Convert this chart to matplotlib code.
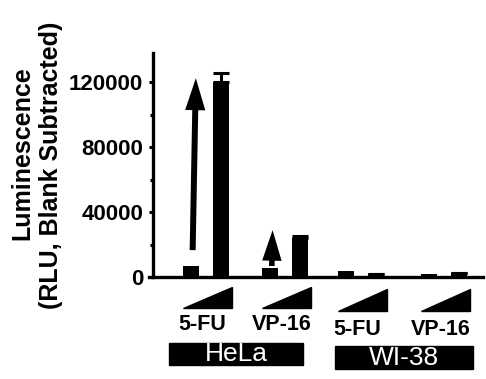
import matplotlib
matplotlib.use('Agg')
import matplotlib.pyplot as plt
from matplotlib.patches import Rectangle, Polygon
from matplotlib.ticker import MultipleLocator

plt.rcParams['font.family'] = ['Liberation Sans', 'DejaVu Sans']

# data
cells = ['HeLa', 'WI-38']
drugs = ['5-FU', 'VP-16', '5-FU', 'VP-16']
group_pos = [0.0, 1.0, 1.96, 3.01]
low_vals = [6500, 5500, 3500, 1800]
high_vals = [120000, 24000, 1800, 2500]
high_err = [6000, 1500, 0, 0]
# arrows: (tail value, tip value)
arrows = [(16600, 122500), (6800, 28900)]

off = 0.19
w = 0.2

fig = plt.figure(figsize=(4.86, 3.79), dpi=100)
ax = fig.add_axes([0.315, 0.269, 0.679, 0.591])

low_x = [g - off for g in group_pos]
high_x = [g + off for g in group_pos]
ax.bar(low_x, low_vals, width=w, color='black')
ax.bar(high_x, high_vals, width=w, color='black',
       yerr=[[0] * 4, high_err], ecolor='black',
       error_kw=dict(capsize=6, capthick=2.2, elinewidth=2.2))

# arrows over low-dose bars of HeLa
tilt = [0.04, 0.01]
for i, (t0, t1) in enumerate(arrows):
    x0 = low_x[i] + 0.02
    if i == 0:
        style = 'simple,head_length=2.3,head_width=1.45,tail_width=0.43'
    else:
        style = 'simple,head_length=2.2,head_width=1.4,tail_width=0.4'
    ax.annotate('', xy=(x0 + tilt[i], t1), xytext=(x0, t0),
                arrowprops=dict(arrowstyle=style, mutation_scale=10,
                                color='black', shrinkA=0, shrinkB=0, lw=0))

ax.set_xlim(-0.67, 3.5)
ax.set_ylim(0, 138000)
ax.yaxis.set_major_locator(MultipleLocator(40000))
ax.yaxis.set_minor_locator(MultipleLocator(20000))
ax.set_xticks([])
for s in ['top', 'right']:
    ax.spines[s].set_visible(False)
ax.spines['left'].set_linewidth(2.4)
ax.spines['bottom'].set_linewidth(2.4)
ax.spines['bottom'].set_bounds(-0.72, 3.5)
ax.tick_params(axis='y', which='major', length=3, width=2.2, direction='out',
               labelsize=16, pad=4)
ax.tick_params(axis='y', which='minor', length=2, width=2.2, direction='out')
for lab in ax.get_yticklabels():
    lab.set_fontweight('bold')

tr = ax.get_xaxis_transform()
# dose wedges and drug labels
wedge_y = [(-0.045, -0.138), (-0.045, -0.138), (-0.054, -0.152), (-0.054, -0.152)]
label_y = [-0.214, -0.214, -0.232, -0.232]
for i, g in enumerate(group_pos):
    top, bot = wedge_y[i]
    xl, xr = g - 0.29, g + 0.33
    ax.add_patch(Polygon([(xl, bot), (xr, bot), (xr, top)], closed=True,
                         color='black', transform=tr, clip_on=False))
    ax.text(g - 0.05, label_y[i], drugs[i], transform=tr, ha='center', va='center',
            fontsize=15.5, fontweight='bold')

# cell line boxes
boxes = [(-0.47, 1.23, -0.393, -0.295), (1.63, 3.37, -0.411, -0.308)]
for name, (x0, x1, y0, y1) in zip(cells, boxes):
    ax.add_patch(Rectangle((x0, y0), x1 - x0, y1 - y0, color='black',
                           transform=tr, clip_on=False))
    ax.text((x0 + x1) / 2, (y0 + y1) / 2, name, transform=tr, ha='center',
            va='center', color='white', fontsize=19)

fig.text(22 / 486, 1 - 153 / 379, 'Luminescence', rotation=90, ha='center',
         va='center', fontsize=18, fontweight='bold')
fig.text(51 / 486, 1 - 165 / 379, '(RLU, Blank Subtracted)', rotation=90,
         ha='center', va='center', fontsize=18, fontweight='bold')

fig.savefig('out.png', dpi=100)
